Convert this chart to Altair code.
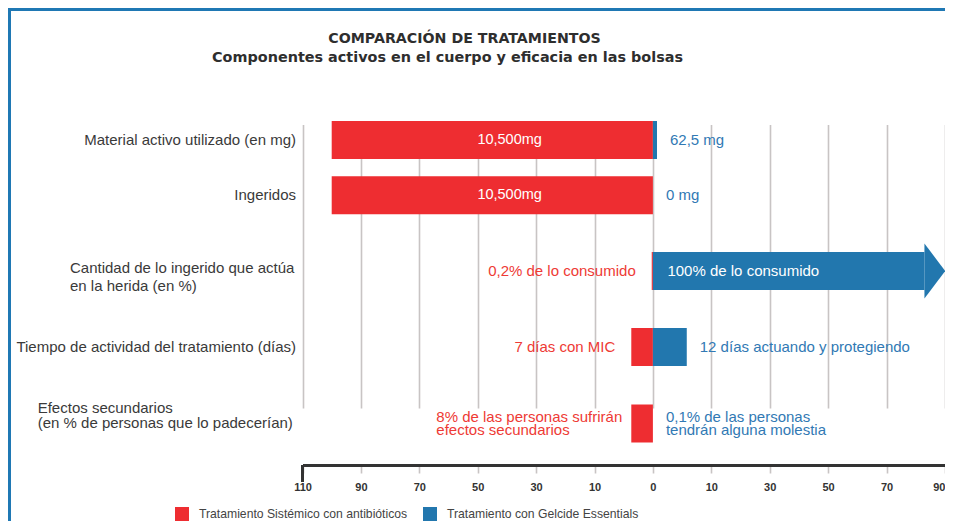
import altair as alt
import pandas as pd

# ---------------- data ----------------
title_text = ["COMPARACIÓN DE TRATAMIENTOS"]
subtitle_text = ["Componentes activos en el cuerpo y eficacia en las bolsas"]

rows = [
    "Material activo utilizado (en mg)",
    "Ingeridos",
    "Cantidad de lo ingerido que actúa\nen la herida (en %)",
    "Tiempo de actividad del tratamiento (días)",
    "Efectos secundarios\n(en % de personas que lo padecerían)",
]
series = ["Tratamiento Sistémico con antibióticos", "Tratamiento con Gelcide Essentials"]
red_vals = [-100, -100, -0.2, -3.7, -3.7]
blue_vals = [0.7, 0, 83, 5.8, 0]
red_labels = ["10,500mg", "10,500mg", "0,2% de lo consumido", "7 días con MIC",
              "8% de las personas sufrirán\nefectos secundarios"]
blue_labels = ["62,5 mg", "0 mg", "100% de lo consumido", "12 días actuando y protegiendo",
               "0,1% de las personas\ntendrán alguna molestia"]
arrow_flag = [False, False, True, False, False]
tick_values = [-110, -90, -70, -50, -30, -10, 0, 10, 30, 50, 70, 90]

RED = "#ee2d31"
BLUE = "#2277ae"
RED_TXT = "#ee3a35"
BLUE_TXT = "#3179b4"
GRAY = "#c8c4c4"
DARK = "#3a3a3a"
FONT = "Liberation Sans"

# ---------------- tables ----------------
ri = list(range(1, len(rows) + 1))


def part(s, k):
    p = s.split("\n")
    return p[k] if k < len(p) else ""


bars = pd.DataFrame({
    "ri": ri * 2,
    "series": [series[0]] * 5 + [series[1]] * 5,
    "start": red_vals + [0] * 5,
    "end": [0] * 5 + blue_vals,
})
lab = pd.DataFrame({
    "ri": ri, "red": red_vals, "blue": blue_vals, "arrow": arrow_flag, "zero": [0] * 5,
    "row0": [part(s, 0) for s in rows], "row1": [part(s, 1) for s in rows],
    "r0": [part(s, 0) for s in red_labels], "r1": [part(s, 1) for s in red_labels],
    "b0": [part(s, 0) for s in blue_labels], "b1": [part(s, 1) for s in blue_labels],
})

# ---------------- scales ----------------
W, H = 643, 382
STEP = 58.4
xs = alt.Scale(domain=tick_values, range=[0.5 + STEP * i for i in range(len(tick_values))],
               nice=False, zero=False, padding=0)
ys = alt.Scale(domain=ri, range=[57, 112.2, 188, 264, 340.5], nice=False, zero=False,
               padding=0)
xaxis = alt.Axis(values=tick_values, labelExpr="abs(datum.value) + ''", title=None,
                 grid=True, gridColor=GRAY, gridWidth=1.6,
                 tickColor=GRAY, tickWidth=1.6, tickSize=8,
                 domainColor="#333333", domainWidth=3,
                 labelFont=FONT, labelFontWeight="bold", labelFontSize=11,
                 labelColor="#333333", labelPadding=8, labelOverlap=False,
                 labelFlush=False,
                 labelAlign={"condition": {"test": "datum.value == 90", "value": "right"},
                             "value": "center"})


def X(f):
    return alt.X(f, type="quantitative", scale=xs, axis=xaxis)


def Y():
    return alt.Y("ri:Q", scale=ys, axis=None)


base = alt.Chart(lab)


def txt(filt, field, x, **kw):
    props = dict(baseline="middle", font=FONT, fontSize=15)
    props.update(kw)
    return base.transform_filter(filt).mark_text(**props).encode(x=x, y=Y(), text=f"{field}:N")


bar_layer = alt.Chart(bars).mark_bar(size=38, orient="horizontal").encode(
    x=X("start"), x2="end", y=Y(),
    color=alt.Color("series:N", scale=alt.Scale(domain=series, range=[RED, BLUE]),
                    legend=alt.Legend(title=None, orient="none", legendX=-127, legendY=424,
                                      direction="horizontal", symbolType="square",
                                      symbolSize=196, symbolStrokeWidth=0,
                                      labelFont=FONT, labelFontSize=12.2, labelColor="#444444",
                                      labelOffset=10, columnPadding=15, padding=0,
                                      labelLimit=400)),
)

arrow_head = base.transform_filter("datum.arrow").mark_point(
    shape="M 0 -1 L 0.753 0 L 0 1 Z", size=3025, filled=True, opacity=1, color=BLUE,
    strokeWidth=0,
).encode(x=X("blue"), y=Y())

layers = [
    bar_layer, arrow_head,
    # red annotations
    txt("datum.ri <= 2", "r0", X("zero"), align="right", dx=-111, fontSize=14.5, color="white"),
    txt("datum.ri == 3 || datum.ri == 4", "r0", X("red"), align="right", dx=-16, color=RED_TXT),
    txt("datum.ri == 5", "r0", X("red"), align="left", dx=-195, dy=-7, color=RED_TXT),
    txt("datum.ri == 5", "r1", X("red"), align="left", dx=-195, dy=6, color=RED_TXT),
    # blue annotations
    txt("datum.ri == 1 || datum.ri == 2 || datum.ri == 4", "b0", X("blue"), align="left",
        dx=13, color=BLUE_TXT),
    txt("datum.ri == 5", "b0", X("blue"), align="left", dx=13, dy=-7, color=BLUE_TXT),
    txt("datum.ri == 5", "b1", X("blue"), align="left", dx=13, dy=6, color=BLUE_TXT),
    txt("datum.ri == 3", "b0", X("zero"), align="left", dx=14.5, color="white"),
    # row labels
    txt("datum.ri == 1 || datum.ri == 2 || datum.ri == 4", "row0", alt.value(-6),
        align="right", color=DARK),
    txt("datum.ri == 3", "row0", alt.value(-232), align="left", dy=-2.7, color=DARK),
    txt("datum.ri == 3", "row1", alt.value(-232), align="left", dy=15, color=DARK),
    txt("datum.ri == 5", "row0", alt.value(-264.3), align="left", dy=-15.8, color=DARK),
    txt("datum.ri == 5", "row1", alt.value(-264.3), align="left", dy=-0.2, color=DARK),
]

title_layer = alt.Chart(pd.DataFrame({"t": title_text})).mark_text(
    align="center", baseline="middle", font="DejaVu Sans", fontWeight="bold",
    fontSize=14.2, color="#2e2e2e",
).encode(x=alt.value(162.5), y=alt.value(-44), text="t:N")

subtitle_layer = alt.Chart(pd.DataFrame({"t": subtitle_text})).mark_text(
    align="center", baseline="middle", font="DejaVu Sans", fontWeight="bold",
    fontSize=14.4, color="#2e2e2e",
).encode(x=alt.value(145.5), y=alt.value(-25), text="t:N")

end_tick = alt.Chart(pd.DataFrame({"v": tick_values[:1]})).mark_rule(
    color="#333333", strokeWidth=3,
).encode(x=X("v"), y=alt.value(H), y2=alt.value(H + 17))

frame_left = alt.Chart(pd.DataFrame({"a": [0]})).mark_rule(color="#1f78b4", strokeWidth=3).encode(
    x=alt.value(-292.5), y=alt.value(-75), y2=alt.value(H + 56))
frame_top = alt.Chart(pd.DataFrame({"a": [0]})).mark_rule(color="#1f78b4", strokeWidth=3).encode(
    x=alt.value(-294), x2=alt.value(W), y=alt.value(-73.5))

chart = alt.layer(
    *layers, title_layer, subtitle_layer, end_tick, frame_left, frame_top,
).properties(
    width=W, height=H,
    autosize=alt.AutoSizeParams(type="none"),
    padding={"left": 294, "top": 75, "right": 0, "bottom": 56},
    background="white",
).configure_view(stroke=None)

chart.save("out.html", embed_options={"renderer": "svg", "actions": False})
